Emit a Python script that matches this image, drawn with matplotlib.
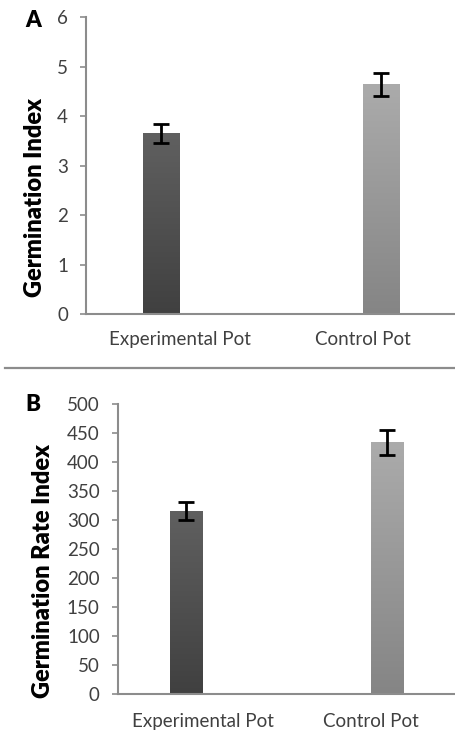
"""
Germination index (A) and germination rate index (B), experimental vs control pot
"""
import numpy as np
import matplotlib
matplotlib.use("agg")
import matplotlib.pyplot as plt
from matplotlib.lines import Line2D

pots = ["Experimental Pot", "Control Pot"]

# panel A
gi_mean = [3.65, 4.64]
gi_err = [0.19, 0.24]
gi_ticks = [0, 1, 2, 3, 4, 5, 6]

# panel B
gri_mean = [316, 434]
gri_err = [16, 22]
gri_ticks = [0, 50, 100, 150, 200, 250, 300, 350, 400, 450, 500]

# top/bottom gradient colours per bar
bar_shades = [("#606060", "#404040"), ("#ababab", "#858585")]

plt.rcParams['font.family'] = ['Lato', 'DejaVu Sans']
TXT = "#404040"
AXC = "#8c8c8c"


def gradient_bars(ax, x, heights, width):
    bars = ax.bar(x, heights, width=width, color="none", edgecolor="none",
                  zorder=2)
    for b, (top, bot) in zip(bars, bar_shades):
        c0 = np.array(matplotlib.colors.to_rgb(bot))
        c1 = np.array(matplotlib.colors.to_rgb(top))
        t = np.linspace(0, 1, 256)[:, None]
        img = (c0 + (c1 - c0) * t)[:, None, :]
        x0, y0 = b.get_x(), b.get_y()
        im = ax.imshow(img, extent=[x0, x0 + b.get_width(), y0, y0 + b.get_height()],
                       origin="lower", aspect="auto", zorder=2)
        im.set_clip_path(b)
    return bars


def panel(ax, means, errs, yticks, ylabel, xpad, label_x, label_y):
    x = np.arange(len(means))
    gradient_bars(ax, x, means, 0.164)
    ax.errorbar(x, means, yerr=errs, fmt="none", ecolor="black",
                elinewidth=2, capsize=6, capthick=2, zorder=3)
    ax.set_xlim(-0.34, 1.337)
    ax.set_ylim(yticks[0], yticks[-1])
    ax.set_yticks(yticks)
    ax.set_xticks([0.085, 0.918])
    ax.set_xticklabels(pots)
    for s in ["top", "right"]:
        ax.spines[s].set_visible(False)
    for s in ["left", "bottom"]:
        ax.spines[s].set_color(AXC)
        ax.spines[s].set_linewidth(1.5)
    ax.tick_params(axis="y", length=4, width=1.2, color=AXC, pad=9,
                   labelsize=13.5, labelcolor=TXT)
    ax.tick_params(axis="x", length=0, pad=xpad, labelsize=13.5,
                   labelcolor=TXT)
    ax.set_ylabel(ylabel, fontsize=17, fontweight="heavy", color="black")
    ax.yaxis.set_label_coords(label_x, label_y)
    ax.yaxis.label.set_va("center")


fig = plt.figure(figsize=(4.55, 7.43), dpi=100)

ax_a = fig.add_axes([0.189, 0.577, 0.811, 0.400])
panel(ax_a, gi_mean, gi_err, gi_ticks, "Germination Index", 12, -0.138, 0.394)

ax_b = fig.add_axes([0.259, 0.066, 0.741, 0.390])
panel(ax_b, gri_mean, gri_err, gri_ticks, "Germination Rate Index", 14,
      -0.222, 0.424)

# panel letters and separator
fig.text(0.055, 0.973, "A", fontsize=16, fontweight="heavy", va="center")
fig.text(0.055, 0.455, "B", fontsize=16, fontweight="heavy", va="center")
fig.add_artist(Line2D([0.011, 1.0], [0.505, 0.505], color=AXC, lw=1.6,
                      transform=fig.transFigure))

fig.savefig("out.png", dpi=100)
